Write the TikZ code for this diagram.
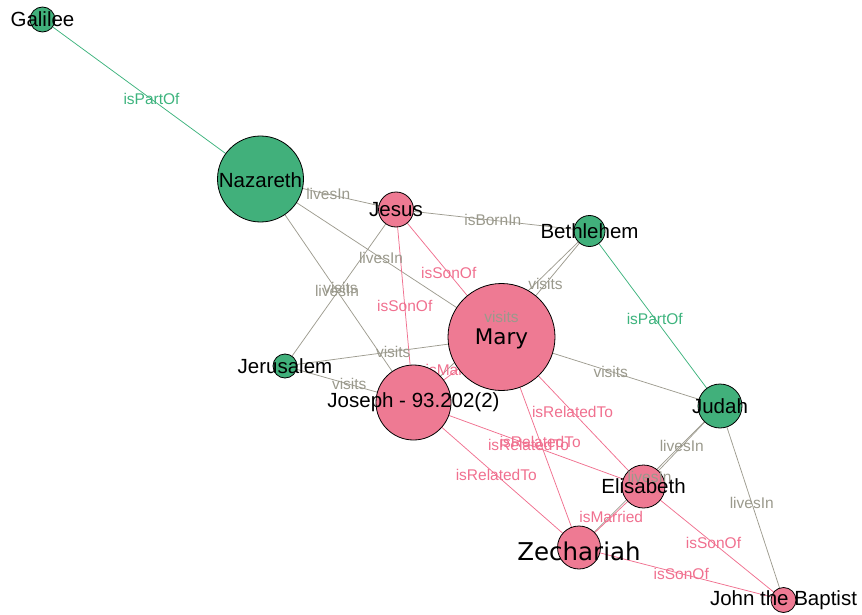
\documentclass[tikz,border=0pt]{standalone}
\usepackage{fontspec}
\setmainfont{Liberation Sans}
\newfontfamily\dejavu{DejaVu Sans}
\definecolor{pinkfill}{HTML}{EE7A93}
\definecolor{greenfill}{HTML}{41B07B}
\definecolor{grayedge}{HTML}{9E9C90}
\definecolor{graytext}{HTML}{9A998C}
\definecolor{pinkedge}{HTML}{F0708F}
\definecolor{greenedge}{HTML}{3DB37D}
\begin{document}
\begin{tikzpicture}[x=1pt,y=-1pt,
  vnode/.style={circle, draw=black, line width=0.8pt, inner sep=0pt},
  pnode/.style={vnode, fill=pinkfill},
  gnode/.style={vnode, fill=greenfill},
  nlabel/.style={font=\fontsize{20.5}{24}\selectfont, inner sep=0pt, text=black},
  elabel/.style={font=\fontsize{15.5}{18}\selectfont, inner sep=0pt},
  grayline/.style={draw=grayedge, line width=0.75pt},
  pinkline/.style={draw=pinkedge, line width=0.75pt},
  greenline/.style={draw=greenedge, line width=0.75pt},
  graylab/.style={elabel, text=graytext},
  pinklab/.style={elabel, text=pinkedge},
  greenlab/.style={elabel, text=greenedge}
]
\useasboundingbox (0,0) rectangle (862,615);
% positions
\coordinate (gal) at (42.5,19.5);
\coordinate (naz) at (260.5,179);
\coordinate (jes) at (396,209.5);
\coordinate (bet) at (589.5,231);
\coordinate (mar) at (501.5,337);
\coordinate (jer) at (285,366);
\coordinate (jos) at (413.5,402.5);
\coordinate (jud) at (720,406);
\coordinate (eli) at (643.5,486.5);
\coordinate (zec) at (579,547.5);
\coordinate (joh) at (783.5,600);
% edges
\draw[greenline] (gal) -- (naz);
\draw[greenline] (bet) -- (jud);
\draw[grayline] (naz) -- (jes);
\draw[grayline] (naz) -- (mar);
\draw[grayline] (naz) -- (jos);
\draw[grayline] (jes) -- (jer);
\draw[grayline] (jes) -- (bet);
\draw[grayline] (mar) -- (bet);
\draw[grayline] (jos) -- (bet);
\draw[grayline] (mar) -- (jer);
\draw[grayline] (jos) -- (jer);
\draw[grayline] (mar) -- (jud);
\draw[grayline] (eli) -- (jud);
\draw[grayline] (zec) -- (jud);
\draw[grayline] (joh) -- (jud);
\draw[pinkline] (jes) -- (mar);
\draw[pinkline] (jes) -- (jos);
\draw[pinkline] (jos) -- (mar);
\draw[pinkline] (mar) -- (eli);
\draw[pinkline] (mar) -- (zec);
\draw[pinkline] (jos) -- (eli);
\draw[pinkline] (jos) -- (zec);
\draw[pinkline] (eli) -- (zec);
\draw[pinkline] (eli) -- (joh);
\draw[pinkline] (zec) -- (joh);
% label hidden by Mary
\path (jos) -- (mar) node[midway, pinklab] {isMarried};
% circles
\node[gnode, minimum size=25pt] (galC) at (gal) {};
\node[gnode, minimum size=86pt] (nazC) at (naz) {};
\node[pnode, minimum size=35pt] (jesC) at (jes) {};
\node[gnode, minimum size=31pt] (betC) at (bet) {};
\node[gnode, minimum size=24pt] (jerC) at (jer) {};
\node[pnode, minimum size=75pt] (josC) at (jos) {};
\node[pnode, minimum size=107pt] (marC) at (mar) {};
\node[gnode, minimum size=44pt] (judC) at (jud) {};
\node[pnode, minimum size=43pt] (eliC) at (eli) {};
\node[pnode, minimum size=43pt] (zecC) at (zec) {};
\node[pnode, minimum size=25pt] (johC) at (joh) {};
% edge labels
\path (gal) -- (naz) node[midway, greenlab] {isPartOf};
\path (bet) -- (jud) node[midway, greenlab] {isPartOf};
\path (naz) -- (jes) node[midway, graylab] {livesIn};
\path (naz) -- (mar) node[midway, graylab] {livesIn};
\path (naz) -- (jos) node[midway, graylab] {livesIn};
\path (jes) -- (jer) node[midway, graylab] {visits};
\path (jes) -- (bet) node[midway, graylab] {isBornIn};
\path (mar) -- (bet) node[midway, graylab] {visits};
\path (jos) -- (bet) node[midway, graylab] {visits};
\path (mar) -- (jer) node[midway, graylab] {visits};
\path (jos) -- (jer) node[midway, graylab] {visits};
\path (mar) -- (jud) node[midway, graylab] {visits};
\path (eli) -- (jud) node[midway, graylab] {livesIn};
\path (zec) -- (jud) node[midway, graylab] {livesIn};
\path (joh) -- (jud) node[midway, graylab] {livesIn};
\path (jes) -- (mar) node[midway, pinklab] {isSonOf};
\path (jes) -- (jos) node[midway, pinklab] {isSonOf};
\path (mar) -- (eli) node[midway, pinklab] {isRelatedTo};
\path (mar) -- (zec) node[midway, pinklab] {isRelatedTo};
\path (jos) -- (eli) node[midway, pinklab] {isRelatedTo};
\path (jos) -- (zec) node[midway, pinklab] {isRelatedTo};
\path (eli) -- (zec) node[midway, pinklab] {isMarried};
\path (eli) -- (joh) node[midway, pinklab] {isSonOf};
\path (zec) -- (joh) node[midway, pinklab] {isSonOf};
% node labels
\node[nlabel] (galL) at (gal) {Galilee};
\node[nlabel] (nazL) at ([yshift=-1.5pt]naz) {Nazareth};
\node[nlabel] (jesL) at (jes) {Jesus};
\node[nlabel] (betL) at (bet) {Bethlehem};
\node[nlabel] (jerL) at (jer) {Jerusalem};
\node[nlabel] (josL) at (jos) {Joseph - 93.202(2)};
\node[nlabel, font=\dejavu\fontsize{21.5}{26}\selectfont] (marL) at ([yshift=-2pt]mar) {Mary};
\node[nlabel] (judL) at (jud) {Judah};
\node[nlabel] (eliL) at (eli) {Elisabeth};
\node[nlabel, font=\dejavu\fontsize{24.5}{29}\selectfont] (zecL) at ([yshift=-4pt]zec) {Zechariah};
\node[nlabel] (johL) at (joh) {John the Baptist};
\end{tikzpicture}
\end{document}
